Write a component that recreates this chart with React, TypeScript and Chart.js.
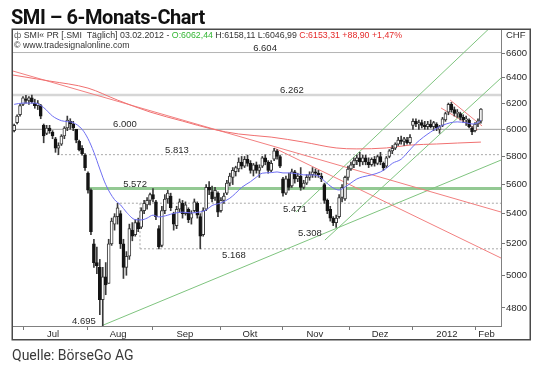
import React, { useEffect, useRef } from 'react';
import { Chart, registerables } from 'chart.js';

Chart.register(...registerables);

// ---- daily OHLC (SMI, 28.06.2011 - 03.02.2012), trading-day index ----
const openP = [5990,6050,6110,6190,6230,6220,6240,6200,6180,6180,
 6030,5970,6010,5980,5930,5860,5890,5950,6010,6060,
 6040,6000,5910,5860,5810,5680,5560,5200,5080,5050,
 4850,4990,4950,5200,5330,5380,5400,5200,5050,5120,
 5290,5260,5340,5310,5420,5460,5490,5530,5480,5300,
 5190,5420,5500,5520,5400,5320,5430,5470,5400,5430,
 5370,5420,5470,5380,5260,5430,5580,5550,5510,5540,
 5420,5490,5540,5610,5650,5690,5710,5760,5730,5780,
 5750,5700,5740,5700,5730,5790,5760,5700,5780,5840,
 5800,5640,5540,5640,5590,5690,5640,5660,5580,5610,
 5650,5670,5690,5680,5660,5600,5490,5430,5370,5340,
 5380,5510,5500,5650,5710,5740,5770,5790,5760,5790,
 5760,5740,5780,5750,5800,5750,5730,5800,5840,5860,
 5890,5920,5910,5920,5900,6030,6060,6040,6050,6030,
 6020,6040,6020,6040,6000,6030,6070,6130,6190,6150,
 6120,6120,6090,6070,6070,6010,5990,6040,6062];
const highP = [6040,6110,6190,6250,6260,6250,6262,6230,6220,6190,
 6040,6030,6030,5990,5940,5900,5960,6020,6100,6080,
 6060,6000,5920,5880,5820,5690,5570,5230,5180,5100,
 5050,5080,5230,5370,5400,5470,5420,5230,5150,5330,
 5340,5360,5370,5440,5490,5510,5540,5572,5490,5320,
 5450,5530,5560,5540,5410,5450,5500,5490,5480,5440,
 5420,5500,5480,5400,5440,5600,5620,5590,5580,5550,
 5510,5540,5630,5680,5720,5730,5790,5800,5800,5810,
 5770,5750,5760,5740,5800,5813,5770,5770,5860,5850,
 5810,5650,5660,5680,5710,5700,5680,5720,5630,5670,
 5690,5720,5710,5700,5680,5610,5500,5450,5380,5390,
 5530,5600,5660,5730,5760,5790,5810,5830,5810,5810,
 5790,5790,5800,5810,5830,5760,5800,5850,5880,5900,
 5940,5950,5940,5940,5960,6080,6080,6070,6070,6060,
 6060,6070,6060,6050,6030,6090,6130,6200,6205,6170,
 6150,6130,6110,6100,6080,6020,6050,6080,6158];
const lowP = [5980,6040,6100,6180,6200,6190,6200,6160,6150,6080,
 5900,5960,5970,5930,5830,5813,5880,5930,5990,6000,
 5990,5900,5840,5810,5700,5540,5260,5050,5010,4760,
 4695,4880,4950,5190,5290,5330,5170,4980,5000,5100,
 5220,5250,5280,5300,5400,5430,5460,5480,5360,5168,
 5180,5400,5470,5420,5290,5300,5410,5370,5390,5340,
 5330,5410,5370,5168,5250,5420,5530,5480,5490,5380,
 5410,5470,5530,5590,5600,5660,5690,5710,5720,5730,
 5680,5660,5680,5650,5720,5740,5680,5690,5770,5780,
 5720,5520,5530,5560,5580,5610,5620,5560,5570,5600,
 5630,5650,5650,5650,5620,5470,5400,5350,5320,5308,
 5370,5480,5490,5630,5700,5720,5740,5730,5740,5740,
 5720,5730,5730,5740,5740,5700,5720,5790,5820,5850,
 5880,5890,5880,5890,5890,6000,6020,6000,6010,6000,
 6000,6010,5990,5990,5970,6020,6060,6110,6130,6100,
 6090,6070,6050,6030,6010,5960,5980,6020,6047];
const closeP = [6030,6100,6180,6240,6220,6240,6210,6180,6200,6100,
 5950,6010,5990,5950,5860,5880,5950,6010,6070,6040,
 6010,5920,5850,5820,5720,5560,5280,5080,5060,4850,
 4990,4940,5200,5350,5380,5440,5200,5050,5120,5300,
 5250,5340,5300,5420,5470,5490,5530,5500,5380,5180,
 5420,5500,5540,5440,5330,5430,5480,5400,5460,5360,
 5400,5480,5390,5250,5420,5580,5560,5500,5560,5410,
 5490,5520,5610,5660,5700,5720,5760,5730,5780,5750,
 5700,5740,5700,5720,5790,5760,5700,5750,5840,5800,
 5730,5540,5640,5580,5690,5640,5660,5580,5610,5650,
 5670,5690,5680,5670,5640,5490,5420,5370,5340,5370,
 5510,5580,5650,5710,5740,5770,5790,5760,5790,5760,
 5740,5780,5750,5800,5760,5720,5790,5840,5860,5890,
 5920,5910,5930,5900,5940,6060,6040,6050,6030,6020,
 6040,6020,6050,6010,6020,6080,6120,6190,6150,6120,
 6130,6090,6070,6080,6020,5980,6040,6064,6153];

// ---- moving averages (index, value) ----
const maShortIdx = [0,3,7,10,13,16,18,20,23,25,27,29,31,34,36,38,41,43,45,47,49,52,54,57,60,63,65,67,70,73,75,77,80,82,84,87,89,91,93,96,98,100,103,105,108,110,112,114,116,118,121,124,126,128,131,133,136,141,145,150,153,155,157,158];
const maShortVal = [6190,6200,6200,6165,6100,6065,6058,6050,6000,5930,5830,5710,5600,5495,5460,5410,5360,5358,5370,5390,5378,5390,5402,5410,5405,5412,5425,5455,5473,5505,5540,5580,5620,5652,5680,5684,5689,5682,5682,5675,5668,5668,5661,5625,5576,5562,5583,5611,5639,5654,5668,5689,5715,5750,5780,5825,5895,5980,6030,6056,6049,6040,6050,6068];
const maLongIdx = [-0.4,12,25,35,46,57,67,76,87,98,109,116,126,134,143,150,158];
const maLongVal = [6421,6373,6317,6223,6131,6062,6002,5965,5942,5905,5862,5855,5862,5883,5891,5898,5905];

// ---- axes ----
const xMin = -0.385;
const xMax = 164.8;
const yMin = 4693;
const yMax = 6801;
const yTicks = [4800,5000,5200,5400,5600,5800,6000,6200,6400,6600];
const monthStartIdx = [3,24.7,47,69.7,91,113.4,135,156];
const monthLabels = ['Jul','Aug','Sep','Okt','Nov','Dez','2012','Feb'];
const monthLabelIdx = [13.2,35.2,57.8,79.8,101.8,123.9,146.5,159.9];

// ---- horizontal levels ----
const levelVal = [6604,6262,6000,5813,5572,5471,5168];
const levelFromIdx = [-0.385,-0.385,-0.385,14.5,24.7,35.8,42.6];
const levelKind = ['thin','wide','solid','dot','green','dot','dot'];

const labelText = ['6.604','6.262','6.000','5.813','5.572','5.471','5.308','5.168','4.695'];
const labelVal = [6604,6262,6000,5813,5572,5471,5308,5168,4695];
const labelIdx = [80.9,90.0,33.5,51.1,36.9,91.0,96.1,70.4,19.6];
const labelSide = ['above','above','above','above','above','below','below','below','above'];

// ---- trend lines ----
const trendFromIdx = [-0.385,88,147.6,144.5,29.7,105.2,95.4];
const trendFromVal = [6453,5862,6223,6162,4695,5225,5411];
const trendToIdx = [164.8,164.8,158.4,157,164.8,164.8,163.1];
const trendToVal = [5411,5109,6025,5995,5774,6397,6860];
const trendKind = ['red','red','red','red','green','green','green'];

const FONT = '"Liberation Sans", Arial, sans-serif';

const levelStyle: Record<string, any> = {
  thin: { borderColor: '#b4b4b4', borderWidth: 1, borderDash: [] },
  wide: { borderColor: '#d6d6d6', borderWidth: 2.5, borderDash: [] },
  solid: { borderColor: '#9c9c9c', borderWidth: 1, borderDash: [] },
  dot: { borderColor: '#a8a8a8', borderWidth: 1, borderDash: [2, 2] },
  green: { borderColor: '#93c993', borderWidth: 3, borderDash: [] },
};

const decorPlugin = {
  id: 'decor',
  afterDatasetsDraw(chart: any) {
    const ctx = chart.ctx;
    const xs = chart.scales.x;
    const ys = chart.scales.y;
    ctx.save();
    ctx.font = '9.5px ' + FONT;
    ctx.fillStyle = '#2a2a2a';
    ctx.textAlign = 'left';
    ctx.textBaseline = 'alphabetic';
    labelText.forEach((t, k) => {
      const px = xs.getPixelForValue(labelIdx[k]);
      const py = ys.getPixelForValue(labelVal[k]);
      const y = labelSide[k] === 'above' ? py - 2 : py + 9;
      ctx.fillText(t, px, y);
    });
    ctx.restore();
  },
  afterDraw(chart: any) {
    const ctx = chart.ctx;
    const xs = chart.scales.x;
    const a = chart.chartArea;
    ctx.save();
    // outer frame
    ctx.strokeStyle = '#4a4a4a';
    ctx.lineWidth = 1.5;
    ctx.strokeRect(12.25, 29.25, 518, 310.5);
    // month labels
    ctx.font = '9.5px ' + FONT;
    ctx.fillStyle = '#2a2a2a';
    ctx.textAlign = 'center';
    ctx.textBaseline = 'middle';
    monthLabels.forEach((m, k) => {
      ctx.fillText(m, xs.getPixelForValue(monthLabelIdx[k]), a.bottom + 8);
    });
    // currency
    ctx.textAlign = 'left';
    ctx.fillText('CHF', a.right + 5, a.top + 6);
    // header lines
    ctx.font = '8.8px ' + FONT;
    const segs: [string, string][] = [
      ['ф ', '#666'],
      ['SMI« PR [.SMI  Täglich] 03.02.2012 - ', '#333'],
      ['O:6062,44 ', '#33b533'],
      ['H:6158,11 L:6046,99 ', '#333'],
      ['C:6153,31 +88,90 +1,47%', '#e52b2b'],
    ];
    let x = a.left + 1;
    segs.forEach(([t, c]) => {
      ctx.fillStyle = c;
      ctx.fillText(t, x, a.top + 6.5);
      x += ctx.measureText(t).width;
    });
    ctx.fillStyle = '#333';
    ctx.fillText('© www.tradesignalonline.com', a.left + 1, a.top + 16.5);
    ctx.restore();
  },
};

function lineSet(pts: { x: number; y: number }[], color: string, width: number, order: number, extra: any = {}) {
  return {
    type: 'line',
    data: pts,
    borderColor: color,
    borderWidth: width,
    pointRadius: 0,
    fill: false,
    order,
    ...extra,
  };
}

export default function App() {
  const ref = useRef<HTMLCanvasElement | null>(null);

  useEffect(() => {
    const datasets: any[] = [];
    levelVal.forEach((v, k) => {
      const st = levelStyle[levelKind[k]];
      datasets.push(lineSet([{ x: levelFromIdx[k], y: v }, { x: xMax, y: v }], st.borderColor, st.borderWidth, 20, { borderDash: st.borderDash }));
    });
    // box edge between 5.471 and 5.168
    datasets.push(lineSet([{ x: levelFromIdx[6], y: levelVal[5] }, { x: levelFromIdx[6], y: levelVal[6] }], '#a8a8a8', 1, 20, { borderDash: [2, 2] }));
    trendKind.forEach((k, j) => {
      datasets.push(lineSet(
        [{ x: trendFromIdx[j], y: trendFromVal[j] }, { x: trendToIdx[j], y: trendToVal[j] }],
        k === 'red' ? '#f28080' : '#7fc47f', 1, 10));
    });
    datasets.push(lineSet(maLongIdx.map((x, k) => ({ x, y: maLongVal[k] })), '#f07070', 1, 9, { tension: 0.4, cubicInterpolationMode: 'monotone' }));
    // wicks
    datasets.push({
      type: 'bar',
      data: highP.map((h, i) => ({ x: i, y: [lowP[i], h] })),
      backgroundColor: '#3a3a3a',
      borderWidth: 0,
      barThickness: 1,
      grouped: false,
      order: 3,
    });
    // bodies
    const up = closeP.map((c, i) => c >= openP[i]);
    datasets.push({
      type: 'bar',
      data: openP.map((o, i) => {
        const lo = Math.min(o, closeP[i]);
        const hi = Math.max(o, closeP[i]);
        return { x: i, y: [lo, hi === lo ? hi + 4 : hi] };
      }),
      backgroundColor: up.map((u) => (u ? '#ffffff' : '#141414')),
      borderColor: up.map((u) => (u ? '#3a3a3a' : '#141414')),
      borderWidth: 1,
      borderSkipped: false,
      barThickness: 3,
      grouped: false,
      order: 2,
    });
    datasets.push(lineSet(maShortIdx.map((x, k) => ({ x, y: maShortVal[k] })), '#6e6ef2', 1, 1, { tension: 0.4, cubicInterpolationMode: 'monotone' }));

    const chart = new Chart(ref.current as HTMLCanvasElement, {
      type: 'bar',
      data: { datasets },
      options: {
        animation: false,
        responsive: false,
        devicePixelRatio: 1,
        layout: { padding: { left: 13, top: 29, right: 10, bottom: 25 } },
        plugins: { legend: { display: false }, tooltip: { enabled: false } },
        scales: {
          x: {
            type: 'linear',
            min: xMin,
            max: xMax,
            offset: false,
            afterBuildTicks: (s: any) => { s.ticks = monthStartIdx.map((v) => ({ value: v })); },
            afterFit: (s: any) => { s.height = 14; },
            ticks: { display: false },
            grid: { drawOnChartArea: false, drawTicks: true, tickLength: 4, color: '#777', offset: false },
            border: { display: true, color: '#808080' },
          },
          y: {
            type: 'logarithmic',
            position: 'right',
            min: yMin,
            max: yMax,
            bounds: 'data',
            beginAtZero: false,
            afterBuildTicks: (s: any) => { s.ticks = yTicks.map((v) => ({ value: v })); },
            afterFit: (s: any) => { s.width = 29; },
            ticks: {
              autoSkip: false,
              padding: 1,
              color: '#2a2a2a',
              font: { size: 9.5, family: FONT },
              callback: (v: any) => String(v),
            },
            grid: { drawOnChartArea: false, drawTicks: true, tickLength: 4, color: '#777' },
            border: { display: true, color: '#808080' },
          },
        },
      } as any,
      plugins: [decorPlugin],
    } as any);
    return () => chart.destroy();
  }, []);

  return (
    <div style={{ position: 'fixed', left: 0, top: 0, width: 540, height: 365, background: '#fff', overflow: 'hidden' }}>
      <canvas ref={ref} width={540} height={365} style={{ position: 'absolute', left: 0, top: 0, width: 540, height: 365 }} />
      <div style={{ position: 'absolute', left: 11, top: 7, fontFamily: 'Roboto, sans-serif', fontWeight: 700, fontSize: 20, lineHeight: '20px', color: '#111', whiteSpace: 'nowrap', letterSpacing: '-0.45px' }}>
        SMI – 6-Monats-Chart
      </div>
      <div style={{ position: 'absolute', left: 12, top: 348, fontFamily: 'Roboto, sans-serif', fontSize: 14, lineHeight: '14px', color: '#3a3a3a', whiteSpace: 'nowrap' }}>
        Quelle: BörseGo AG
      </div>
    </div>
  );
}
